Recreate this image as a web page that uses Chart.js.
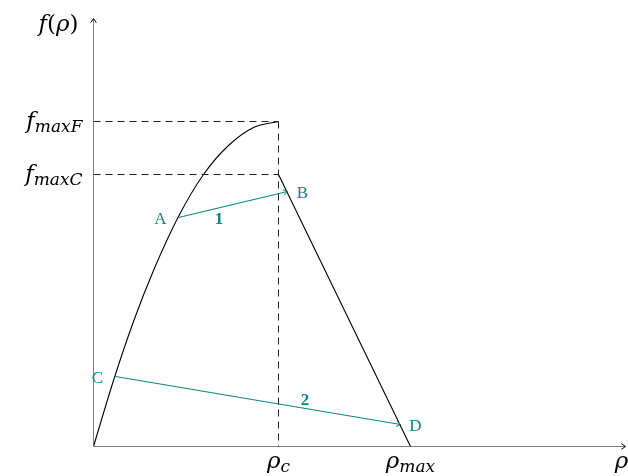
<!DOCTYPE html>
<html lang="en">
<head>
    <meta charset="UTF-8">
    <title>Fundamental diagram with capacity drop</title>
    <script src="https://cdn.jsdelivr.net/npm/chart.js"></script>
    <style>
        html, body { margin: 0; padding: 0; background: #ffffff; }
        #fdChart { display: block; }
    </style>
</head>
<body>
    <canvas id="fdChart" width="628" height="476"></canvas>

    <script>
        // key values (axis units)
        const rhoC = 185, rhoMax = 317, rhoEnd = 532;
        const fMaxF = 325, fMaxC = 272, fEnd = 428;

        // free-flow branch
        const freeRho  = [0, 20, 40, 60, 85, 110, 135, 160, 185];
        const freeFlow = [0, 66, 125, 176, 230, 272, 301, 319, 325];

        // congested branch
        const congRho  = [185, 317];
        const congFlow = [272, 0];

        // transitions A->B and C->D
        const pathNames   = ['1', '2'];
        const pathFrom    = ['A', 'C'];
        const pathTo      = ['B', 'D'];
        const pathFromRho = [85, 22];
        const pathFromF   = [229, 70];
        const pathToRho   = [194, 307];
        const pathToF     = [255, 22];

        const teal = '#0d8585';
        const pts = (xs, ys) => xs.map((x, i) => ({ x: x, y: ys[i] }));

        const datasets = [
            { data: [{ x: 0, y: 0 }, { x: rhoEnd, y: 0 }], borderColor: '#000', borderWidth: 1, arrow: true },
            { data: [{ x: 0, y: 0 }, { x: 0, y: fEnd }], borderColor: '#000', borderWidth: 1, arrow: true },
            { data: [{ x: 0, y: fMaxF }, { x: rhoC, y: fMaxF }], borderColor: '#222', borderWidth: 1, borderDash: [7, 5] },
            { data: [{ x: 0, y: fMaxC }, { x: rhoC, y: fMaxC }], borderColor: '#222', borderWidth: 1, borderDash: [7, 5] },
            { data: [{ x: rhoC, y: fMaxF }, { x: rhoC, y: 0 }], borderColor: '#222', borderWidth: 1, borderDash: [7, 5] },
            { data: pts(freeRho, freeFlow), borderColor: '#000', borderWidth: 1.1, cubicInterpolationMode: 'monotone' },
            { data: pts(congRho, congFlow), borderColor: '#000', borderWidth: 1.1 }
        ];
        pathNames.forEach((n, i) => {
            datasets.push({
                data: [{ x: pathFromRho[i], y: pathFromF[i] }, { x: pathToRho[i], y: pathToF[i] }],
                borderColor: teal, borderWidth: 1.1, arrow: true
            });
        });
        datasets.forEach(d => { d.showLine = true; d.pointRadius = 0; d.fill = false; });

        function drawRich(ctx, parts, x, y, align) {
            let w = 0;
            parts.forEach(p => { ctx.font = p.font; w += ctx.measureText(p.t).width; });
            let cx = align === 'right' ? x - w : (align === 'left' ? x : x - w / 2);
            ctx.textBaseline = 'alphabetic';
            ctx.textAlign = 'left';
            parts.forEach(p => {
                ctx.font = p.font;
                ctx.fillText(p.t, cx, y + (p.dy || 0));
                cx += ctx.measureText(p.t).width;
            });
        }

        const it = s => 'italic ' + s + 'px "DejaVu Serif"';
        const rm = s => s + 'px "DejaVu Serif"';
        const lt = s => s + 'px "Liberation Serif"';

        const decorPlugin = {
            id: 'decor',
            afterDatasetsDraw(chart) {
                const ctx = chart.ctx;
                const xs = chart.scales.x, ys = chart.scales.y;
                const X = v => xs.getPixelForValue(v), Y = v => ys.getPixelForValue(v);
                ctx.save();

                // arrow heads
                chart.data.datasets.forEach((d, i) => {
                    if (!d.arrow) return;
                    const m = chart.getDatasetMeta(i).data;
                    const a = m[m.length - 2], b = m[m.length - 1];
                    const ang = Math.atan2(b.y - a.y, b.x - a.x);
                    ctx.strokeStyle = d.borderColor;
                    ctx.lineWidth = 1;
                    ctx.beginPath();
                    ctx.moveTo(b.x - 5 * Math.cos(ang - 0.6), b.y - 5 * Math.sin(ang - 0.6));
                    ctx.lineTo(b.x, b.y);
                    ctx.lineTo(b.x - 5 * Math.cos(ang + 0.6), b.y - 5 * Math.sin(ang + 0.6));
                    ctx.stroke();
                });

                // axis labels
                ctx.fillStyle = '#000';
                drawRich(ctx, [{ t: 'f', font: it(23) }, { t: '(', font: rm(23) }, { t: 'ρ', font: it(23) }, { t: ')', font: rm(23) }],
                    X(0) - 35, Y(fEnd) + 12, 'center');
                drawRich(ctx, [{ t: 'f', font: it(23) }, { t: 'maxF', font: it(17), dy: 4 }], X(0) - 11, Y(fMaxF) + 6, 'right');
                drawRich(ctx, [{ t: 'f', font: it(23) }, { t: 'maxC', font: it(17), dy: 4 }], X(0) - 11, Y(fMaxC) + 6, 'right');
                drawRich(ctx, [{ t: 'ρ', font: it(23) }, { t: 'c', font: it(17), dy: 4 }], X(rhoC), Y(0) + 21, 'center');
                drawRich(ctx, [{ t: 'ρ', font: it(23) }, { t: 'max', font: it(17), dy: 4 }], X(rhoMax), Y(0) + 21, 'center');
                drawRich(ctx, [{ t: 'ρ', font: it(23) }], X(rhoEnd) - 4, Y(0) + 21, 'center');

                // path labels
                ctx.fillStyle = teal;
                pathNames.forEach((n, i) => {
                    drawRich(ctx, [{ t: pathFrom[i], font: lt(17) }], X(pathFromRho[i]) - 18, Y(pathFromF[i]) + 6, 'center');
                    drawRich(ctx, [{ t: pathTo[i], font: lt(17) }], X(pathToRho[i]) + 15, Y(pathToF[i]) + 6, 'center');
                    const mx = (X(pathFromRho[i]) + X(pathToRho[i])) / 2;
                    const my = (Y(pathFromF[i]) + Y(pathToF[i])) / 2;
                    drawRich(ctx, [{ t: n, font: 'bold ' + lt(17) }], mx + (i === 0 ? -14 : 47), my + (i === 0 ? 19 : 4), 'center');
                });
                ctx.restore();
            }
        };

        new Chart(document.getElementById('fdChart'), {
            type: 'scatter',
            data: { datasets: datasets },
            options: {
                responsive: false,
                animation: false,
                layout: { padding: { left: 93.5, top: 18.5, right: 2.5, bottom: 29.5 } },
                plugins: { legend: { display: false }, tooltip: { enabled: false } },
                scales: {
                    x: { type: 'linear', min: 0, max: rhoEnd, display: false },
                    y: { type: 'linear', min: 0, max: fEnd, display: false }
                }
            },
            plugins: [decorPlugin]
        });
    </script>
</body>
</html>
